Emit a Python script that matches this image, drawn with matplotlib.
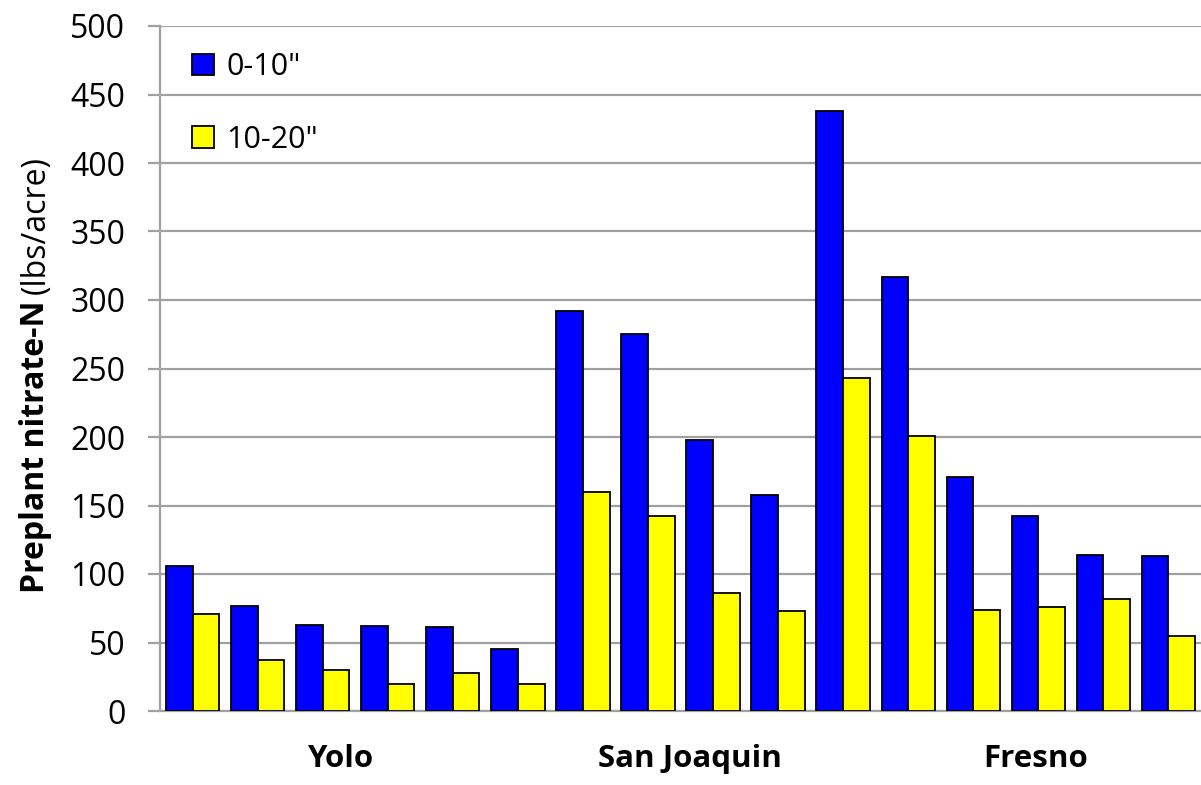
import numpy as np
import matplotlib.pyplot as plt

plt.rcParams['font.family'] = ['Open Sans', 'DejaVu Sans']

# preplant soil nitrate-N per field, two sampling depths
counties = ['Yolo', 'San Joaquin', 'Fresno']
county_pos = [2.27, 7.65, 12.96]
depths = ['0-10"', '10-20"']
nitrate_0_10 = [106, 77, 63, 62, 61, 45, 292, 275, 198, 158, 438, 317, 171, 142, 114, 113]
nitrate_10_20 = [71, 37, 30, 20, 28, 20, 160, 142, 86, 73, 243, 201, 74, 76, 82, 55]
yticks = np.arange(0, 501, 50)

W, H = 1201, 785
fig = plt.figure(figsize=(W / 100, H / 100), dpi=100)
ax = fig.add_axes([160 / W, 74 / H, 1041 / W, 685 / H])

x = np.arange(len(nitrate_0_10))
w = 0.41
ax.bar(x - w / 2, nitrate_0_10, w, color='#0000ff', edgecolor='black',
       linewidth=1.3, label=depths[0], zorder=3)
ax.bar(x + w / 2, nitrate_10_20, w, color='#ffff00', edgecolor='black',
       linewidth=1.3, label=depths[1], zorder=3)

ax.set_xlim(-0.5, len(x) - 0.5)
ax.set_ylim(0, 500)
ax.set_yticks(yticks)
ax.yaxis.grid(True, color='#a0a0a0', linewidth=1.6, zorder=0)
ax.set_axisbelow(True)
for s in ['top', 'right']:
    ax.spines[s].set_visible(False)
ax.spines['left'].set_color('#a0a0a0')
ax.spines['left'].set_linewidth(1.6)
ax.spines['bottom'].set_color('#a0a0a0')
ax.spines['bottom'].set_linewidth(1.6)
ax.tick_params(axis='y', length=9, width=1.6, color='#a0a0a0',
               labelsize=23, pad=16)
ax.set_xticks(county_pos)
ax.set_xticklabels(counties, fontsize=22.5, fontweight='bold')
ax.tick_params(axis='x', length=0, pad=24)

ax.legend(loc='upper left', bbox_to_anchor=(0.031, 0.962), frameon=False,
          fontsize=22, handlelength=0.7, handleheight=0.7,
          handletextpad=0.42, labelspacing=1.4, borderpad=0,
          borderaxespad=0)

# y label: bold part then regular part, stacked along the rotated baseline
fig.canvas.draw()
r = fig.canvas.get_renderer()
lx = 36 / W
t1 = fig.text(lx, 1 - 593 / H, 'Preplant nitrate-N', rotation=90,
              ha='center', va='bottom', fontsize=23, fontweight='bold')
bb = t1.get_window_extent(r)
t2 = fig.text(lx, (bb.y1 + 7) / H, '(lbs/acre)', rotation=90,
              ha='center', va='bottom', fontsize=23)

fig.savefig('out.png', dpi=100)
